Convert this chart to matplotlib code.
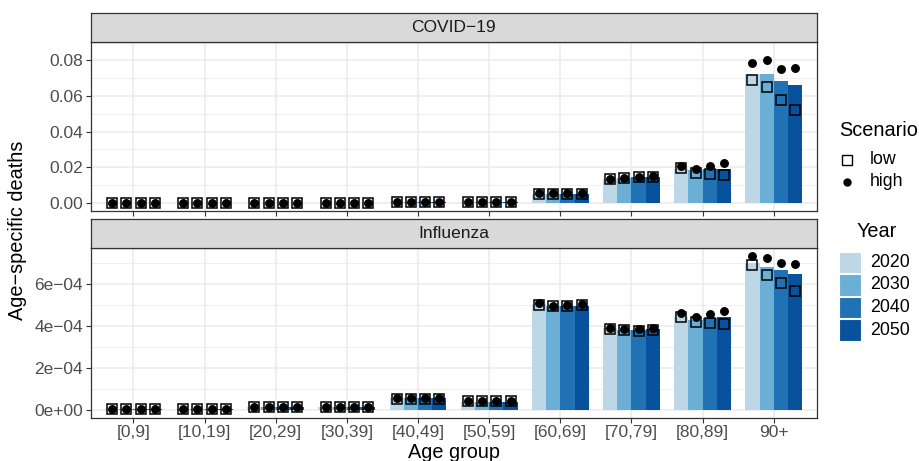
import matplotlib
matplotlib.use("Agg")
import matplotlib.pyplot as plt
from matplotlib.patches import Rectangle
from matplotlib.lines import Line2D
import numpy as np

plt.rcParams['font.family'] = ['Liberation Sans', 'DejaVu Sans']

# Datos
age_groups = ['[0,9]', '[10,19]', '[20,29]', '[30,39]', '[40,49]',
              '[50,59]', '[60,69]', '[70,79]', '[80,89]', '90+']
years = [2020, 2030, 2040, 2050]
year_colors = ['#BDD7E7', '#6BAED6', '#2171B5', '#08519C']
panels = ['COVID\u221219', 'Influenza']

# COVID-19 (una fila por año)
covid_bar = [
    [0.00004, 0.00004, 0.0001, 0.0002, 0.0004, 0.0009, 0.0049, 0.0135, 0.0193, 0.0723],
    [0.00004, 0.00004, 0.0001, 0.0002, 0.0004, 0.0009, 0.0050, 0.0139, 0.0188, 0.0723],
    [0.00004, 0.00004, 0.0001, 0.0002, 0.0004, 0.0009, 0.0052, 0.0146, 0.0191, 0.0681],
    [0.00004, 0.00004, 0.0001, 0.0002, 0.0004, 0.0009, 0.0052, 0.0146, 0.0193, 0.0662],
]
covid_low = [
    [0.00003, 0.00003, 0.0001, 0.00015, 0.0004, 0.0009, 0.0054, 0.0135, 0.0195, 0.0686],
    [0.00003, 0.00003, 0.0001, 0.00015, 0.0004, 0.0009, 0.0054, 0.0139, 0.0170, 0.0648],
    [0.00003, 0.00003, 0.0001, 0.00015, 0.0004, 0.0009, 0.0054, 0.0145, 0.0165, 0.0578],
    [0.00003, 0.00003, 0.0001, 0.00015, 0.0004, 0.0009, 0.0054, 0.0147, 0.0156, 0.0521],
]
covid_high = [
    [0.00004, 0.00004, 0.0001, 0.0002, 0.0004, 0.0009, 0.0056, 0.0137, 0.0208, 0.0780],
    [0.00004, 0.00004, 0.0001, 0.0002, 0.0004, 0.0009, 0.0056, 0.0140, 0.0191, 0.0797],
    [0.00004, 0.00004, 0.0001, 0.0002, 0.0004, 0.0009, 0.0057, 0.0148, 0.0210, 0.0747],
    [0.00004, 0.00004, 0.0001, 0.0002, 0.0004, 0.0009, 0.0057, 0.0150, 0.0224, 0.0754],
]

# Influenza (una fila por año)
flu_bar = [
    [3e-6, 3e-6, 1.5e-5, 1.5e-5, 5.5e-5, 4.0e-5, 5.04e-4, 3.88e-4, 4.42e-4, 6.97e-4],
    [3e-6, 3e-6, 1.5e-5, 1.5e-5, 5.5e-5, 4.0e-5, 4.96e-4, 3.80e-4, 4.27e-4, 6.79e-4],
    [3e-6, 3e-6, 1.5e-5, 1.5e-5, 5.5e-5, 4.0e-5, 4.94e-4, 3.80e-4, 4.37e-4, 6.65e-4],
    [3e-6, 3e-6, 1.5e-5, 1.5e-5, 5.5e-5, 4.0e-5, 4.94e-4, 3.85e-4, 4.42e-4, 6.46e-4],
]
flu_low = [
    [4e-6, 3e-6, 1.6e-5, 1.6e-5, 5.4e-5, 4.3e-5, 5.00e-4, 3.87e-4, 4.43e-4, 6.87e-4],
    [4e-6, 3e-6, 1.6e-5, 1.6e-5, 5.4e-5, 4.3e-5, 4.92e-4, 3.79e-4, 4.18e-4, 6.43e-4],
    [4e-6, 3e-6, 1.6e-5, 1.6e-5, 5.4e-5, 4.3e-5, 4.92e-4, 3.76e-4, 4.13e-4, 6.03e-4],
    [4e-6, 3e-6, 1.6e-5, 1.6e-5, 5.4e-5, 4.3e-5, 4.97e-4, 3.78e-4, 4.07e-4, 5.65e-4],
]
flu_high = [
    [4e-6, 3e-6, 1.6e-5, 1.6e-5, 5.5e-5, 4.4e-5, 5.07e-4, 3.91e-4, 4.62e-4, 7.33e-4],
    [4e-6, 3e-6, 1.6e-5, 1.6e-5, 5.5e-5, 4.4e-5, 4.96e-4, 3.83e-4, 4.43e-4, 7.22e-4],
    [4e-6, 3e-6, 1.6e-5, 1.6e-5, 5.5e-5, 4.4e-5, 4.97e-4, 3.83e-4, 4.56e-4, 7.00e-4],
    [4e-6, 3e-6, 1.6e-5, 1.6e-5, 5.5e-5, 4.4e-5, 5.05e-4, 3.91e-4, 4.72e-4, 6.95e-4],
]

covid_ticks = [0.00, 0.02, 0.04, 0.06, 0.08]
covid_ticklabels = ['0.00', '0.02', '0.04', '0.06', '0.08']
flu_ticks = [0, 2e-4, 4e-4, 6e-4]
flu_ticklabels = ['0e+00', '2e\u221204', '4e\u221204', '6e\u221204']

W, H = 919, 461
fig = plt.figure(figsize=(W / 100, H / 100), dpi=100)

TICK_FS = 12.5
LEG_FS = 12.8
TITLE_FS = 14.3


# Convierte una caja en píxeles (desde arriba) a coordenadas de figura
def box(x0, y0, x1, y1):
    return [x0 / W, 1 - y1 / H, (x1 - x0) / W, (y1 - y0) / H]


def draw_panel(ax, bars, low, high, ticks, ticklabels, ylim, show_x):
    x = np.arange(len(age_groups))
    width = 0.2
    for j in range(len(years)):
        xpos = x + (j - 1.5) * width
        ax.bar(xpos, bars[j], width=width, color=year_colors[j], zorder=2)
        ax.plot(xpos, low[j], 's', ms=7.8, mfc='none', mec='black', mew=1.1, zorder=3)
        ax.plot(xpos, high[j], 'o', ms=5.4, color='black', zorder=4)
    ax.set_xlim(-0.6, len(age_groups) - 0.4)
    ax.set_ylim(*ylim)
    ax.set_xticks(x)
    ax.set_xticklabels(age_groups if show_x else [])
    ax.set_yticks(ticks)
    ax.set_yticklabels(ticklabels)
    mids = [(a + b) / 2 for a, b in zip(ticks[:-1], ticks[1:])]
    mids.append(ticks[-1] + (ticks[1] - ticks[0]) / 2)
    ax.set_yticks(mids, minor=True)
    ax.grid(True, which='major', color='#EBEBEB', linewidth=1.1, zorder=0)
    ax.grid(True, which='minor', axis='y', color='#EBEBEB', linewidth=0.55, zorder=0)
    ax.set_axisbelow(True)
    ax.tick_params(which='major', length=3.5, width=0.8, color='#333333',
                   labelsize=TICK_FS, labelcolor='#4D4D4D', pad=2)
    ax.tick_params(which='minor', length=0)
    for s in ax.spines.values():
        s.set_color('#333333')
        s.set_linewidth(0.9)


def draw_strip(rect, label):
    sax = fig.add_axes(rect)
    sax.set_facecolor('#D9D9D9')
    sax.set_xticks([])
    sax.set_yticks([])
    for s in sax.spines.values():
        s.set_color('#333333')
        s.set_linewidth(0.9)
    sax.text(0.5, 0.5, label, ha='center', va='center', fontsize=TICK_FS,
             color='#1A1A1A', transform=sax.transAxes)


left, right = 90.7, 816.5

ax1 = fig.add_axes(box(left, 42, right, 210.7))
draw_panel(ax1, covid_bar, covid_low, covid_high, covid_ticks, covid_ticklabels,
           (-0.0042, 0.0836), False)
draw_strip(box(left, 12.7, right, 42), panels[0])

ax2 = fig.add_axes(box(left, 247.7, right, 417.7))
draw_panel(ax2, flu_bar, flu_low, flu_high, flu_ticks, flu_ticklabels,
           (-3.67e-5, 7.71e-4), True)
draw_strip(box(left, 218.7, right, 247.7), panels[1])

fig.text(left / W + (right - left) / W / 2, 1 - 452 / H, 'Age group',
         ha='center', va='center', fontsize=TITLE_FS, color='black')
fig.text(18 / W, 1 - 230 / H, 'Age\u2212specific deaths', rotation=90,
         ha='center', va='center', fontsize=TITLE_FS, color='black')

# Leyenda: Scenario
fig.text(879 / W, 1 - 130 / H, 'Scenario', ha='center', va='center', fontsize=TITLE_FS)
fig.add_artist(Line2D([847 / W], [1 - 159.5 / H], marker='s', ms=7, mfc='none',
                      mec='black', mew=1.0, transform=fig.transFigure))
fig.add_artist(Line2D([847 / W], [1 - 182 / H], marker='o', ms=5, color='black',
                      transform=fig.transFigure))
fig.text(870 / W, 1 - 159.5 / H, 'low', ha='left', va='center', fontsize=LEG_FS)
fig.text(870 / W, 1 - 182 / H, 'high', ha='left', va='center', fontsize=LEG_FS)

# Leyenda: Year
fig.text(877 / W, 1 - 231 / H, 'Year', ha='center', va='center', fontsize=TITLE_FS)
for j, yr in enumerate(years):
    top = 251.5 + j * 22.6
    fig.add_artist(Rectangle((839 / W, 1 - (top + 21.5) / H), 21.5 / W, 21.5 / H,
                             facecolor=year_colors[j], edgecolor='white',
                             linewidth=0.8, transform=fig.transFigure))
    fig.text(870 / W, 1 - (top + 10.8) / H, str(yr), ha='left', va='center',
             fontsize=LEG_FS)

plt.savefig('out.png', dpi=100)
plt.close('all')
